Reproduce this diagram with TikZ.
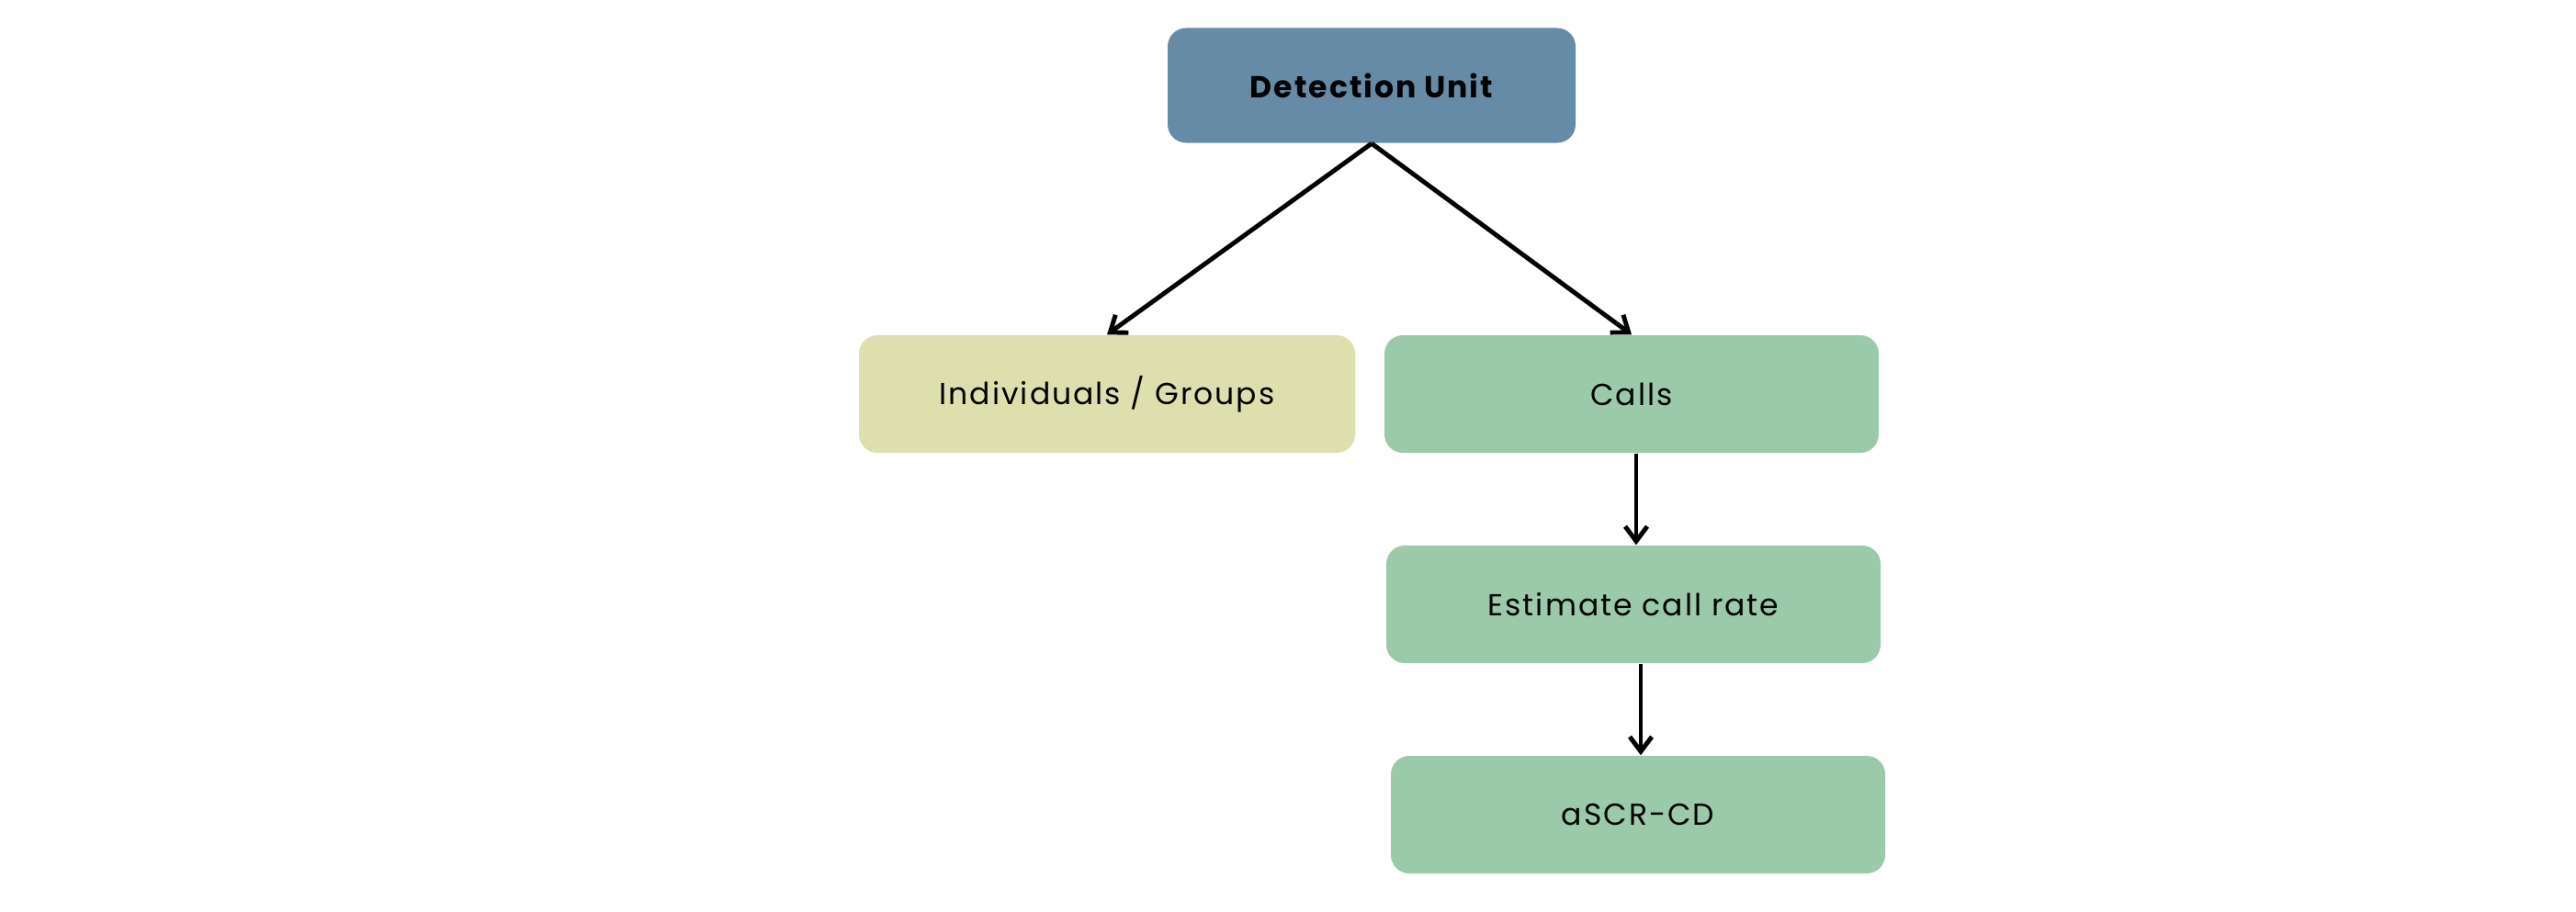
\documentclass[tikz,border=0pt]{standalone}
\usepackage{fontspec}
\setmainfont{Poppins}[LetterSpace=6]
\usetikzlibrary{arrows.meta}
\definecolor{unitblue}{RGB}{101,139,166}
\definecolor{groupyellow}{RGB}{221,224,173}
\definecolor{callgreen}{RGB}{154,202,170}
\begin{document}
\begin{tikzpicture}[>={Straight Barb[length=1.6mm,width=2.4mm]},
        box/.style={rounded corners=0.2cm,align=center,
        minimum width=5.38cm,minimum height=1.28cm,inner sep=0pt},
        link/.style={->,line width=1.4pt},
        every node/.style={font=\fontsize{9.4}{11}\selectfont}]
      \useasboundingbox (0,0) rectangle (28.04,9.92);
      \node[box,fill=unitblue,minimum width=4.44cm,minimum height=1.25cm,
        font=\fontsize{9.4}{11}\selectfont\bfseries] (unit) at (14.93,8.99) {Detection Unit};
      \node[box,fill=groupyellow,minimum width=5.40cm] (groups) at (12.05,5.63) {Individuals / Groups};
      \node[box,fill=callgreen] (calls) at (17.76,5.63) {Calls};
      \node[box,fill=callgreen] (rate) at (17.78,3.34) {Estimate call rate};
      \node[box,fill=callgreen] (ascr) at (17.83,1.05) {aSCR-CD};
      \draw[link] (unit.south) -- (groups.north);
      \draw[link] (unit.south) -- (calls.north);
      \draw[link] ([xshift=0.05cm]calls.south) -- ([xshift=0.05cm]calls.south |- rate.north);
      \draw[link] ([xshift=0.08cm]rate.south) -- ([xshift=0.08cm]rate.south |- ascr.north);
    \end{tikzpicture}
\end{document}
